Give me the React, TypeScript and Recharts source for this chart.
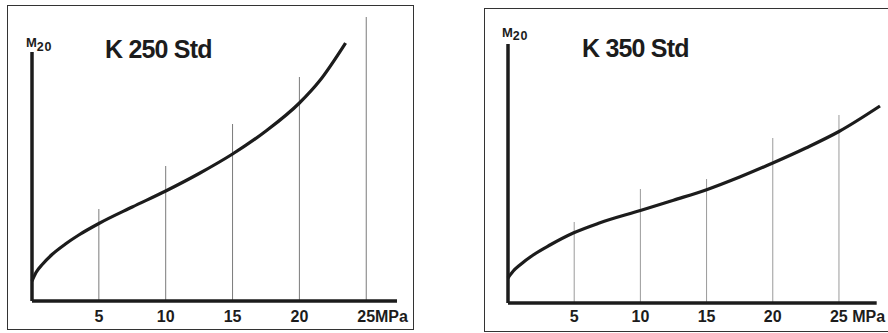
import React from "react";
import { LineChart, Line, XAxis, YAxis, ReferenceLine } from "recharts";

// ---- data (M20 in arbitrary units) ----
const TICKS = [5, 10, 15, 20, 25];
const UNIT = "MPa";

const L_TITLE = "K 250 Std";
const L_MPA = [0, 0.3, 0.8, 1.5, 2.5, 3.5, 5, 7.5, 10, 12.5, 15, 17.5, 20, 21.5, 23.45];
const L_M20 = [20, 28.5, 37, 46.5, 57, 66, 77.5, 94, 110, 127.5, 147, 170, 198, 220, 258];
const L_GRID_TOP = [92, 135, 177, 224, 284];
const L_X_MAX = 27.3;
const L_Y_MAX = 291;
const L_AXIS_TOP = 249;

const R_TITLE = "K 350 Std";
const R_MPA = [0, 0.4, 0.9, 1.9, 3.17, 4.93, 6.9, 10, 12.5, 15, 17.5, 20, 22.5, 25, 28.1];
const R_M20 = [25, 32, 38, 48, 58, 70, 80, 92.5, 102.8, 113.3, 126, 140, 155, 171.5, 197];
const R_GRID_TOP = [81, 114, 124, 165, 188];
const R_X_MAX = 28.1;
const R_X_AXIS_END = 27.85;
const R_Y_MAX = 293;
const R_AXIS_TOP = 259;

const FONT = "'Liberation Sans', Arial, Helvetica, sans-serif";
const INK = "#1c1c1c";

const makeTick = (spaced: boolean, base: number) => (props: any) => {
  const { x, payload } = props;
  const v = payload.value;
  if (v === 25) {
    return (
      <text x={x - 9} y={base} fontFamily={FONT} fontWeight={700} fontSize={16} fill={INK} textAnchor="start">
        {spaced ? `25 ${UNIT}` : `25${UNIT}`}
      </text>
    );
  }
  return (
    <text x={x} y={base} fontFamily={FONT} fontWeight={700} fontSize={16} fill={INK} textAnchor="middle">
      {v}
    </text>
  );
};

function Panel(props: {
  mpa: number[];
  m20: number[];
  gridTop: number[];
  xMax: number;
  xAxisEnd: number;
  yMax: number;
  axisTop: number;
  margin: { top: number; right: number; bottom: number; left: number };
  gridColor: string;
  spaced: boolean;
  labelBase: number;
}) {
  const data = props.mpa.map((m, i) => ({ mpa: m, m20: props.m20[i] }));
  return (
    <LineChart width={444} height={333} data={data} margin={props.margin}>
      <XAxis
        dataKey="mpa"
        type="number"
        domain={[0, props.xMax]}
        ticks={TICKS}
        axisLine={false}
        tickLine={false}
        height={30}
        interval={0}
        tick={makeTick(props.spaced, props.labelBase)}
      />
      <YAxis type="number" domain={[0, props.yMax]} hide allowDataOverflow />
      {TICKS.map((t, i) => (
        <ReferenceLine
          key={t}
          segment={[{ x: t, y: 0 }, { x: t, y: props.gridTop[i] }]}
          stroke={props.gridColor}
          strokeWidth={1}
        />
      ))}
      <ReferenceLine segment={[{ x: 0, y: 0 }, { x: props.xAxisEnd, y: 0 }]} stroke={INK} strokeWidth={3.5} />
      <ReferenceLine segment={[{ x: 0, y: 0 }, { x: 0, y: props.axisTop }]} stroke={INK} strokeWidth={3.5} />
      <Line
        dataKey="m20"
        type="monotone"
        stroke={INK}
        strokeWidth={3.2}
        dot={false}
        activeDot={false}
        isAnimationActive={false}
      />
    </LineChart>
  );
}

export default function App() {
  return (
    <div style={{ position: "absolute", left: 0, top: 0, width: 888, height: 333, background: "#fff", overflow: "hidden" }}>
      <div style={{ position: "absolute", left: 7, top: 5, width: 407, height: 325, border: "1.5px solid #333", boxSizing: "border-box" }} />
      <div style={{ position: "absolute", left: 484, top: 8, width: 420, height: 324, border: "1.5px solid #333", boxSizing: "border-box" }} />
      <div style={{ position: "absolute", left: 0, top: 0 }}>
        <Panel
          mpa={L_MPA}
          m20={L_M20}
          gridTop={L_GRID_TOP}
          xMax={L_X_MAX}
          xAxisEnd={L_X_MAX}
          yMax={L_Y_MAX}
          axisTop={L_AXIS_TOP}
          margin={{ top: 10, right: 47, bottom: 2, left: 32 }}
          gridColor="#7a7a7a"
          spaced={false}
          labelBase={322}
        />
      </div>
      <div style={{ position: "absolute", left: 444, top: 0 }}>
        <Panel
          mpa={R_MPA}
          m20={R_M20}
          gridTop={R_GRID_TOP}
          xMax={R_X_MAX}
          xAxisEnd={R_X_AXIS_END}
          yMax={R_Y_MAX}
          axisTop={R_AXIS_TOP}
          margin={{ top: 10, right: 8, bottom: 0, left: 64 }}
          gridColor="#9a9a9a"
          spaced={true}
          labelBase={322}
        />
      </div>
      <svg width={888} height={333} style={{ position: "absolute", left: 0, top: 0, pointerEvents: "none" }}>
        <text x={105} y={58} fontFamily={FONT} fontWeight={700} fontSize={25} letterSpacing={-0.8} fill={INK}>{L_TITLE}</text>
        <text x={582} y={57} fontFamily={FONT} fontWeight={700} fontSize={25} letterSpacing={-0.8} fill={INK}>{R_TITLE}</text>
        <text x={26} y={47} fontFamily={FONT} fontWeight={700} fill={INK}>
          <tspan fontSize={13}>M</tspan>
          <tspan fontSize={12.5} dy={4} letterSpacing={0.8}>20</tspan>
        </text>
        <text x={502} y={37} fontFamily={FONT} fontWeight={700} fill={INK}>
          <tspan fontSize={13}>M</tspan>
          <tspan fontSize={12.5} dy={3} letterSpacing={0.8}>20</tspan>
        </text>
      </svg>
    </div>
  );
}
